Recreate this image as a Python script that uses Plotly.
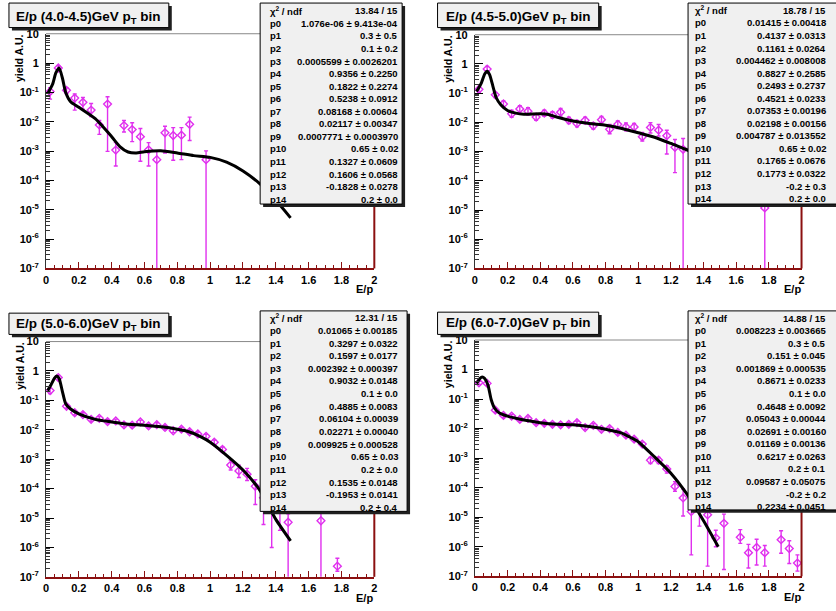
import plotly.graph_objects as go

W, H = 836, 611

# ---------------- data ----------------
# Panel 1: pT 4.0-4.5 GeV
p1_x = [0.025, 0.075, 0.125, 0.175, 0.225, 0.275, 0.325, 0.375, 0.425, 0.475,
        0.525, 0.575, 0.625, 0.675, 0.725, 0.775, 0.825, 0.875, 0.975]
p1_y = [0.107, 0.68, 0.118, 0.064, 0.046, 0.025, 0.0078, 0.040, 0.00108, 0.0074,
        0.0054, 0.0031, 0.0011, 0.00051, 0.0042, 0.0034, 0.0035, 0.0082, 0.00051]
p1_hi = [0.145, 0.81, 0.145, 0.088, 0.067, 0.042, 0.011, 0.071, 0.00195, 0.011,
         0.0093, 0.0059, 0.00195, 0.00098, 0.0070, 0.0063, 0.0063, 0.0144, 0.00102]
p1_lo = [0.059, 0.52, 0.091, 0.025, 0.027, 0.015, 0.0037, 0.00098, 0.00031, 0.0045,
         0.0021, 0.00045, 0.00031, 0.0, 0.00086, 0.00049, 0.00051, 0.0023, 0.0]
p1_fx = [0.01, 0.04, 0.06, 0.08, 0.10, 0.12, 0.15, 0.2, 0.3, 0.4, 0.45, 0.5, 0.55,
         0.6, 0.7, 0.8, 0.9, 1.0, 1.1, 1.2, 1.3, 1.4, 1.49]
p1_fy = [0.091, 0.19, 0.46, 0.68, 0.31, 0.099, 0.048, 0.031, 0.0127, 0.0031, 0.00143,
         0.00093, 0.00086, 0.00095, 0.00103, 0.00086, 0.0007, 0.00061, 0.00042,
         0.00021, 7.9e-5, 2.1e-5, 5.3e-6]

# Panel 2: pT 4.5-5.0 GeV
p2_x = [0.025, 0.075, 0.125, 0.175, 0.225, 0.275, 0.325, 0.375, 0.425, 0.475,
        0.525, 0.575, 0.625, 0.675, 0.725, 0.775, 0.825, 0.875, 0.925, 0.975,
        1.025, 1.075, 1.125, 1.175, 1.225, 1.275, 1.775]
p2_y = [0.135, 0.67, 0.0875, 0.0425, 0.0196, 0.0289, 0.0241, 0.0152, 0.0207, 0.0182,
        0.0223, 0.0117, 0.0091, 0.0117, 0.0076, 0.0124, 0.0058, 0.0086, 0.0070, 0.0070,
        0.0032, 0.0067, 0.0054, 0.0035, 0.0014, 0.0012, 1.18e-5]
p2_hi = [0.17, 0.82, 0.105, 0.054, 0.026, 0.037, 0.032, 0.0195, 0.026, 0.023,
         0.030, 0.0150, 0.0117, 0.0150, 0.0098, 0.0160, 0.0085, 0.0112, 0.0095, 0.0091,
         0.0045, 0.0098, 0.0085, 0.0054, 0.0026, 0.0028, 2.0e-5]
p2_lo = [0.105, 0.56, 0.071, 0.035, 0.015, 0.0206, 0.018, 0.0117, 0.016, 0.0140,
         0.0164, 0.0091, 0.0070, 0.0091, 0.0059, 0.0096, 0.0041, 0.0062, 0.0051, 0.0053,
         0.0023, 0.0043, 0.0034, 0.00083, 0.00019, 0.0, 0.0]
p2_fx = [0.01, 0.04, 0.06, 0.075, 0.09, 0.11, 0.13, 0.16, 0.2, 0.25, 0.3, 0.4, 0.45,
         0.5, 0.6, 0.7, 0.8, 0.9, 1.0, 1.1, 1.2, 1.28, 1.35]
p2_fy = [0.113, 0.227, 0.455, 0.56, 0.43, 0.175, 0.071, 0.039, 0.0254, 0.0207, 0.0191,
         0.0196, 0.0187, 0.0152, 0.0111, 0.0091, 0.0080, 0.0062, 0.0044, 0.0031,
         0.0019, 0.00125, 0.0009]

# Panel 3: pT 5.0-6.0 GeV
p3_x = [0.025, 0.075, 0.125, 0.175, 0.225, 0.275, 0.325, 0.375, 0.425, 0.475,
        0.525, 0.575, 0.625, 0.675, 0.725, 0.775, 0.825, 0.875, 0.925, 0.975,
        1.025, 1.075, 1.125, 1.175, 1.225, 1.275, 1.325, 1.375, 1.425, 1.475,
        1.675, 1.775]
p3_y = [0.215, 0.60, 0.063, 0.038, 0.033, 0.0227, 0.0245, 0.019, 0.020, 0.0147,
        0.0144, 0.0185, 0.0136, 0.0150, 0.0120, 0.0093, 0.0105, 0.0086, 0.0072, 0.0060,
        0.0038, 0.00215, 0.00063, 0.0004, 0.00031, 0.00012, 4.9e-5, 2.0e-5, 2.5e-5,
        7.2e-6, 8.1e-6, 2.3e-7]
p3_hi = [0.26, 0.70, 0.072, 0.044, 0.038, 0.026, 0.028, 0.022, 0.023, 0.017,
         0.0167, 0.0213, 0.0157, 0.0173, 0.0139, 0.0108, 0.0122, 0.0100, 0.0084, 0.0071,
         0.0045, 0.0026, 0.00093, 0.00063, 0.00049, 0.00020, 8.0e-5, 4.0e-5, 4.5e-5,
         1.4e-5, 1.5e-5, 4.3e-7]
p3_lo = [0.17, 0.51, 0.054, 0.032, 0.028, 0.0195, 0.0212, 0.0164, 0.0172, 0.0126,
         0.0124, 0.0160, 0.0117, 0.0129, 0.0103, 0.0080, 0.0090, 0.0073, 0.0061, 0.0050,
         0.0032, 0.0018, 0.00043, 0.00024, 0.00019, 2.9e-5, 6.0e-6, 1.0e-6, 3.8e-6,
         0.0, 0.0, 1.55e-7]
p3_fx = [0.01, 0.03, 0.05, 0.065, 0.08, 0.10, 0.12, 0.15, 0.2, 0.3, 0.4, 0.5, 0.6,
         0.7, 0.8, 0.85, 0.9, 0.95, 1.0, 1.1, 1.2, 1.3, 1.4, 1.49]
p3_fy = [0.215, 0.333, 0.555, 0.68, 0.555, 0.2, 0.077, 0.051, 0.035, 0.0227, 0.0185,
         0.0155, 0.0144, 0.0126, 0.0105, 0.0093, 0.0075, 0.0055, 0.0038, 0.00136,
         0.00043, 9.3e-5, 9.0e-6, 1.67e-6]

# Panel 4: pT 6.0-7.0 GeV
p4_x = [0.025, 0.075, 0.125, 0.175, 0.225, 0.275, 0.325, 0.375, 0.425, 0.475,
        0.525, 0.575, 0.625, 0.675, 0.725, 0.775, 0.825, 0.875, 0.925, 0.975,
        1.025, 1.075, 1.125, 1.175, 1.225, 1.275, 1.325, 1.375, 1.425, 1.475,
        1.525, 1.625, 1.675, 1.725, 1.775, 1.875, 1.925, 1.975]
p4_y = [0.356, 0.34, 0.042, 0.0279, 0.0265, 0.0205, 0.0221, 0.0159, 0.0151, 0.014,
        0.0134, 0.014, 0.0159, 0.0108, 0.0129, 0.0095, 0.010, 0.0074, 0.006, 0.0044,
        0.003, 0.00085, 0.00085, 0.00043, 0.00011, 4.5e-5, 1.56e-5, 2.0e-5, 1.2e-5,
        2.0e-6, 6.2e-6, 2.1e-6, 6.3e-7, 9.5e-7, 6.3e-7, 1.74e-6, 8.7e-7, 2.8e-7]
p4_hi = [0.40, 0.39, 0.048, 0.032, 0.030, 0.023, 0.025, 0.018, 0.017, 0.016,
         0.0152, 0.016, 0.018, 0.0123, 0.0146, 0.0108, 0.0114, 0.0085, 0.0069, 0.0051,
         0.0035, 0.00105, 0.00105, 0.00055, 0.00016, 9.0e-5, 3.5e-5, 4.0e-5, 3.0e-5,
         3.6e-6, 1.27e-5, 3.8e-6, 1.2e-6, 1.8e-6, 1.1e-6, 3.5e-6, 1.6e-6, 5.3e-7]
p4_lo = [0.31, 0.29, 0.036, 0.024, 0.023, 0.018, 0.019, 0.014, 0.013, 0.012,
         0.0116, 0.012, 0.014, 0.0093, 0.0112, 0.0082, 0.0086, 0.0063, 0.0051, 0.0037,
         0.0025, 0.00065, 0.00065, 0.00031, 7.6e-5, 1.1e-5, 5.3e-7, 5.0e-6, 2.2e-7,
         1.0e-6, 1.7e-7, 1.3e-6, 1.9e-7, 2.4e-7, 2.2e-7, 6.0e-7, 2.7e-7, 1.5e-7]
p4_fx = [0.01, 0.03, 0.045, 0.06, 0.08, 0.10, 0.12, 0.15, 0.2, 0.3, 0.4, 0.5, 0.6,
         0.7, 0.8, 0.9, 0.95, 1.0, 1.1, 1.2, 1.3, 1.4, 1.49]
p4_fy = [0.34, 0.495, 0.56, 0.495, 0.30, 0.095, 0.05, 0.034, 0.0265, 0.0195, 0.0159,
         0.014, 0.0134, 0.0117, 0.0095, 0.0070, 0.0051, 0.0036, 0.0011, 0.00031,
         5.9e-5, 7.6e-6, 1.0e-6]

# stats boxes
stat_labels = ["χ<sup>2</sup> / ndf"] + ["p%d" % i for i in range(15)]
p1_stats = ["13.84 / 15", "1.076e-06 ± 9.413e-04", "0.3 ± 0.5", "0.1 ± 0.2",
            "0.0005599 ± 0.0026201", "0.9356 ± 0.2250", "0.1822 ± 0.2274",
            "0.5238 ± 0.0912", "0.08168 ± 0.00604", "0.02117 ± 0.00347",
            "0.0007771 ± 0.0003970", "0.65 ± 0.02", "0.1327 ± 0.0609",
            "0.1606 ± 0.0568", "-0.1828 ± 0.0278", "0.2 ± 0.0"]
p2_stats = ["18.78 / 15", "0.01415 ± 0.00418", "0.4137 ± 0.0313", "0.1161 ± 0.0264",
            "0.004462 ± 0.008008", "0.8827 ± 0.2585", "0.2493 ± 0.2737",
            "0.4521 ± 0.0233", "0.07353 ± 0.00196", "0.02198 ± 0.00156",
            "0.004787 ± 0.013552", "0.65 ± 0.02", "0.1765 ± 0.0676",
            "0.1773 ± 0.0322", "-0.2 ± 0.3", "0.2 ± 0.0"]
p3_stats = ["12.31 / 15", "0.01065 ± 0.00185", "0.3297 ± 0.0322", "0.1597 ± 0.0177",
            "0.002392 ± 0.000397", "0.9032 ± 0.0148", "0.1 ± 0.0",
            "0.4885 ± 0.0083", "0.06104 ± 0.00039", "0.02271 ± 0.00040",
            "0.009925 ± 0.000528", "0.65 ± 0.03", "0.2 ± 0.0",
            "0.1535 ± 0.0148", "-0.1953 ± 0.0141", "0.2 ± 0.4"]
p4_stats = ["14.88 / 15", "0.008223 ± 0.003665", "0.3 ± 0.5", "0.151 ± 0.045",
            "0.001869 ± 0.000535", "0.8671 ± 0.0233", "0.1 ± 0.0",
            "0.4648 ± 0.0092", "0.05043 ± 0.00044", "0.02691 ± 0.00160",
            "0.01169 ± 0.00136", "0.6217 ± 0.0263", "0.2 ± 0.1",
            "0.09587 ± 0.05075", "-0.2 ± 0.2", "0.2234 ± 0.0451"]

titles = ["E/p (4.0-4.5)GeV p<sub>T</sub> bin", "E/p (4.5-5.0)GeV p<sub>T</sub> bin",
          "E/p (5.0-6.0)GeV p<sub>T</sub> bin", "E/p (6.0-7.0)GeV p<sub>T</sub> bin"]
x_ticks = [0, 0.2, 0.4, 0.6, 0.8, 1, 1.2, 1.4, 1.6, 1.8, 2]
x_ticktext = ["0", "0.2", "0.4", "0.6", "0.8", "1", "1.2", "1.4", "1.6", "1.8", "2"]
y_ticks = [1e-7, 1e-6, 1e-5, 1e-4, 1e-3, 1e-2, 1e-1, 1, 10]
y_ticktext = ["10<sup>-7</sup>", "10<sup>-6</sup>", "10<sup>-5</sup>", "10<sup>-4</sup>",
              "10<sup>-3</sup>", "10<sup>-2</sup>", "10<sup>-1</sup>", "1", "10"]

# ---------------- layout geometry (pixels) ----------------
panels = [
    dict(data=(p1_x, p1_y, p1_hi, p1_lo, p1_fx, p1_fy), stats=p1_stats,
         ax=(43.3, 374, 28.3, 267.7), box=(259, -3, 402, 202), row0=5.0, dr=12.8,
         lab_x=267, val_x=400, tbox=(6, -3, 167, 22)),
    dict(data=(p2_x, p2_y, p2_hi, p2_lo, p2_fx, p2_fy), stats=p2_stats,
         ax=(475.3, 804.3, 29.3, 267.7), box=(690, -3, 840, 202), row0=4.5, dr=12.8,
         lab_x=695, val_x=831, tbox=(437.7, -3, 600, 22)),
    dict(data=(p3_x, p3_y, p3_hi, p3_lo, p3_fx, p3_fy), stats=p3_stats,
         ax=(43.3, 374, 342.3, 582.3), box=(259, 311, 407, 515.5), row0=318.0, dr=12.9,
         lab_x=267, val_x=400, tbox=(6, 313.3, 167, 335)),
    dict(data=(p4_x, p4_y, p4_hi, p4_lo, p4_fx, p4_fy), stats=p4_stats,
         ax=(475.3, 804.3, 340.7, 581.7), box=(690, 311, 840, 514), row0=318.3, dr=12.83,
         lab_x=695, val_x=831, tbox=(437.7, 312.3, 600, 335)),
]

def fx(px):
    return px / W

def fy(py):
    return 1 - py / H

MAG = "#e030ee"
DARKRED = "#8b1010"
FONT = "Liberation Sans"

fig = go.Figure()
shapes = []
annotations = []
layout = {}

minor_y = [m * 10 ** e for e in range(-7, 1) for m in range(2, 10)]
minor_x = [i * 0.05 for i in range(41)]

for i, p in enumerate(panels):
    n = "" if i == 0 else str(i + 1)
    xs, ys, hi, lo, cx, cy = p["data"]
    ax0, ax1, ay0, ay1 = p["ax"]
    ep = [h - v for h, v in zip(hi, ys)]
    em = [v - l for v, l in zip(ys, lo)]
    fig.add_trace(go.Scatter(
        x=xs, y=ys, mode="markers", xaxis="x" + n, yaxis="y" + n,
        marker=dict(symbol="diamond-open", size=6, color=MAG, line=dict(width=1.4, color=MAG)),
        error_y=dict(type="data", symmetric=False, array=ep, arrayminus=em,
                     color=MAG, thickness=1.4, width=2),
        showlegend=False, cliponaxis=True))
    fig.add_trace(go.Scatter(
        x=cx, y=cy, mode="lines", xaxis="x" + n, yaxis="y" + n,
        line=dict(color="black", width=3, shape="spline", smoothing=0.6),
        showlegend=False))

    layout["xaxis" + n] = dict(
        domain=[fx(ax0), fx(ax1)], anchor="y" + n, range=[0, 2],
        tickmode="array", tickvals=x_ticks, ticktext=x_ticktext,
        ticks="inside", ticklen=6, tickcolor=DARKRED, tickwidth=1,
        minor=dict(tickmode="array", tickvals=minor_x, ticks="inside", ticklen=3,
                   tickcolor=DARKRED, tickwidth=1),
        showline=True, linecolor=DARKRED, linewidth=2, showgrid=False, zeroline=False,
        tickfont=dict(family=FONT, size=11, color="black", weight="bold"),
        ticklabelstandoff=0, fixedrange=True)
    layout["yaxis" + n] = dict(
        domain=[fy(ay1), fy(ay0)], anchor="x" + n, type="log", range=[-7, 1],
        tickmode="array", tickvals=y_ticks, ticktext=y_ticktext,
        ticks="inside", ticklen=8, tickcolor="black", tickwidth=1,
        minor=dict(tickmode="array", tickvals=minor_y, ticks="inside", ticklen=4,
                   tickcolor="#333333", tickwidth=1),
        showline=True, linecolor="#333333", linewidth=1, showgrid=False, zeroline=False,
        tickfont=dict(family=FONT, size=11, color="black", weight="bold"),
        ticklabelstandoff=4, fixedrange=True)

    # frame: top gray, right dark red
    shapes.append(dict(type="line", xref="paper", yref="paper", x0=fx(ax0), x1=fx(ax1),
                       y0=fy(ay0), y1=fy(ay0), line=dict(color="#888888", width=1)))
    shapes.append(dict(type="line", xref="paper", yref="paper", x0=fx(ax1), x1=fx(ax1),
                       y0=fy(ay0), y1=fy(ay1), line=dict(color=DARKRED, width=2)))

    # stats box with shadow
    bx0, by0, bx1, by1 = p["box"]
    shapes.append(dict(type="rect", xref="paper", yref="paper", layer="above",
                       x0=fx(bx0 + 3), x1=fx(bx1 + 3), y0=fy(by0 + 3), y1=fy(by1 + 3),
                       fillcolor="#202020", line=dict(width=0)))
    shapes.append(dict(type="rect", xref="paper", yref="paper", layer="above",
                       x0=fx(bx0), x1=fx(bx1), y0=fy(by0), y1=fy(by1),
                       fillcolor="#f0f0f0", line=dict(color="black", width=1)))
    for r, (lab, val) in enumerate(zip(stat_labels, p["stats"])):
        yc = p["row0"] + r * p["dr"]
        annotations.append(dict(xref="paper", yref="paper", x=fx(p["lab_x"]), y=fy(yc),
                                xanchor="left", yanchor="middle", showarrow=False, text=lab,
                                font=dict(family=FONT, size=9.5, color="black", weight="bold")))
        annotations.append(dict(xref="paper", yref="paper", x=fx(p["val_x"]), y=fy(yc),
                                xanchor="right", yanchor="middle", showarrow=False, text=val,
                                font=dict(family=FONT, size=9.5, color="black", weight="bold")))

    # title box with shadow
    tx0, ty0, tx1, ty1 = p["tbox"]
    shapes.append(dict(type="rect", xref="paper", yref="paper", layer="above",
                       x0=fx(tx0 + 3), x1=fx(tx1 + 3), y0=fy(ty0 + 3), y1=fy(ty1 + 3),
                       fillcolor="#202020", line=dict(width=0)))
    shapes.append(dict(type="rect", xref="paper", yref="paper", layer="above",
                       x0=fx(tx0), x1=fx(tx1), y0=fy(ty0), y1=fy(ty1),
                       fillcolor="#f0f0f0", line=dict(color="black", width=1)))
    annotations.append(dict(xref="paper", yref="paper", x=fx((tx0 + tx1) / 2),
                            y=fy(max(ty0, 0) + (ty1 - max(ty0, 0)) / 2 + 0.5),
                            xanchor="center", yanchor="middle", showarrow=False,
                            text=titles[i],
                            font=dict(family=FONT, size=13.5, color="black", weight="bold")))

    # axis titles
    annotations.append(dict(xref="paper", yref="paper", x=fx(ax1 + 1), y=fy(ay1 + 13),
                            xanchor="right", yanchor="top", showarrow=False, text="E/p",
                            font=dict(family=FONT, size=11, color="black", weight="bold")))
    annotations.append(dict(xref="paper", yref="paper", x=fx(ax0 - 27), y=fy(ay0 - 2),
                            xanchor="center", yanchor="top", showarrow=False, textangle=-90,
                            text="yield A.U.",
                            font=dict(family=FONT, size=10.5, color="black", weight="bold")))

fig.update_layout(
    width=W, height=H, autosize=False,
    margin=dict(l=0, r=0, t=0, b=0),
    paper_bgcolor="white", plot_bgcolor="white",
    shapes=shapes, annotations=annotations, showlegend=False,
    **layout)

fig.write_html("out.html", config=dict(displayModeBar=False),
               post_script="document.body.style.margin='0';document.body.style.overflow='hidden';")
